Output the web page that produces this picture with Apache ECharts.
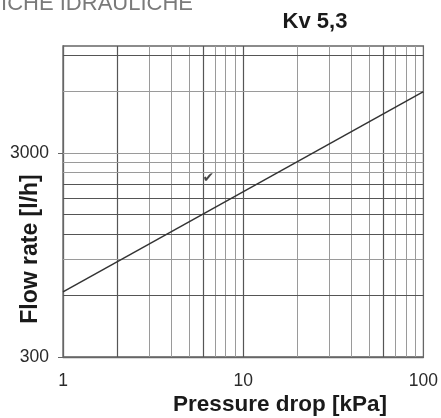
<!DOCTYPE html>
<html><head><meta charset="utf-8">
<script src="https://cdn.jsdelivr.net/npm/echarts@6/dist/echarts.min.js"></script>
<style>html,body{margin:0;padding:0;background:#fff}#c{width:441px;height:418px}</style>
</head><body><div id="c"></div>
<script>
const chartTitle = 'Kv 5,3';
const headerText = 'CARATTERISTICHE IDRAULICHE';
const xName = 'Pressure drop [kPa]';
const yName = 'Flow rate [l/h]';
const xRange = [1, 100];
const yRange = [300, 10000];
const yTickLabels = [300, 3000];
const xGridLines = [2, 3, 4, 5, 6, 7, 8, 9, 10, 20, 30, 40, 50, 60, 70, 80, 90];
const yGridLines = [600, 900, 1200, 1500, 1800, 2100, 2400, 2700, 3000, 6000, 9000];
const xDarkLines = [2, 6, 10, 60];
const yDarkLines = [600, 1200, 1500, 1800, 2100, 9000];
const pressureDrop = [1, 100];
const flowRate = [625, 5980];
const checkMark = [6.4, 2260];

const chart = echarts.init(document.getElementById('c'), null, {renderer: 'canvas'});
const light = {color: '#9a9a9a', width: 1, type: 'solid'};
const dark = {color: '#555', width: 1.2, type: 'solid'};
const gridMarks = []
  .concat(xGridLines.map(v => ({xAxis: v, lineStyle: xDarkLines.includes(v) ? dark : light})))
  .concat(yGridLines.map(v => ({yAxis: v, lineStyle: yDarkLines.includes(v) ? dark : light})));

chart.setOption({
  animation: false,
  grid: {left: 63, right: 17, top: 46, bottom: 61, show: true, borderColor: '#666', borderWidth: 1.3, containLabel: false},
  xAxis: {
    type: 'log', logBase: 10, min: xRange[0], max: xRange[1],
    axisLine: {show: true, lineStyle: {color: '#666', width: 1.3}},
    axisTick: {show: false},
    splitLine: {show: false},
    axisLabel: {color: '#2a2a2a', fontSize: 17.5, margin: 15, fontFamily: 'Liberation Sans', formatter: v => String(v)}
  },
  yAxis: {
    type: 'log', logBase: 10, min: yRange[0], max: yRange[1],
    axisLine: {show: true, lineStyle: {color: '#666', width: 1.3}},
    axisTick: {show: true, length: 5, customValues: yTickLabels, lineStyle: {color: '#666'}},
    splitLine: {show: false},
    axisLabel: {color: '#2a2a2a', fontSize: 17.5, margin: 14, fontFamily: 'Liberation Sans', customValues: yTickLabels, formatter: v => String(v)}
  },
  graphic: [
    {type: 'text', x: 193, y: 4, style: {text: headerText, fontSize: 22, fill: '#7a7a7a', align: 'right', verticalAlign: 'middle', fontFamily: 'Liberation Sans'}},
    {type: 'text', x: 315, y: 22, style: {text: chartTitle, fontSize: 22, fontWeight: 'bold', fill: '#1a1a1a', align: 'center', verticalAlign: 'middle', fontFamily: 'Liberation Sans'}},
    {type: 'text', x: 280, y: 405, style: {text: xName, fontSize: 22.5, fontWeight: 'bold', fill: '#1a1a1a', align: 'center', verticalAlign: 'middle', fontFamily: 'Liberation Sans'}},
    {type: 'text', x: 31, y: 249, rotation: Math.PI / 2, style: {text: yName, fontSize: 23, fontWeight: 'bold', fill: '#1a1a1a', align: 'center', verticalAlign: 'middle', fontFamily: 'Liberation Sans'}}
  ],
  series: [
    {
      type: 'line', silent: true, symbol: 'none',
      lineStyle: {color: '#333', width: 1.5},
      data: pressureDrop.map((x, i) => [x, flowRate[i]]),
      markLine: {silent: true, symbol: ['none', 'none'], label: {show: false}, data: gridMarks, z: 1},
      z: 3
    },
    {
      type: 'scatter', silent: true, symbolSize: 0,
      data: [checkMark],
      label: {show: true, position: 'inside', formatter: '\u2714', fontSize: 14, color: '#1a1a1a', fontFamily: 'DejaVu Sans'}
    }
  ]
});
</script></body></html>
